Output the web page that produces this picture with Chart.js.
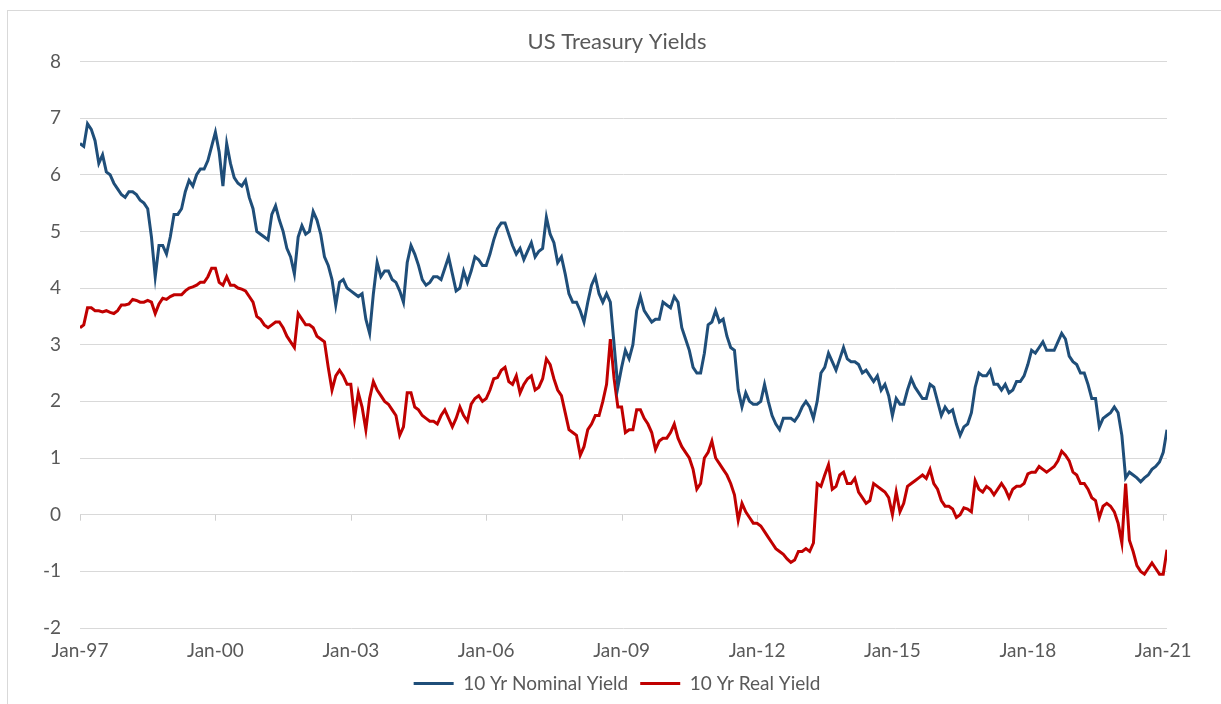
<!DOCTYPE html>
<html lang="en">

<head>
  <meta charset="UTF-8">
  <title>US Treasury Yields</title>
  <script src="https://cdn.jsdelivr.net/npm/chart.js"></script>
  <style>
    body { margin: 0; background: #fff; overflow: hidden; }
    .frame { position: absolute; left: 7px; top: 10px; width: 1240px; height: 720px; border: 1px solid #d9d9d9; }
    .wrap { position: absolute; left: 0; top: 0; width: 1221px; height: 704px; }
  </style>
</head>

<body>
  <div class="frame"></div>
  <div class="wrap">
    <canvas id="yieldChart" width="1221" height="704"></canvas>
  </div>

  <script>
    // monthly readings, Jan-97 .. Feb-21
    const nominalYield = [
      6.55, 6.5, 6.9, 6.8, 6.6, 6.2, 6.35, 6.05, 6.0, 5.85, 5.75, 5.65,   // 1997
      5.6, 5.7, 5.7, 5.65, 5.55, 5.5, 5.4, 4.9, 4.2, 4.75, 4.75, 4.6,     // 1998
      4.9, 5.3, 5.3, 5.4, 5.7, 5.9, 5.8, 6.0, 6.1, 6.1, 6.25, 6.5,        // 1999
      6.75, 6.4, 5.8, 6.55, 6.2, 5.95, 5.85, 5.8, 5.9, 5.6, 5.4, 5.0,     // 2000
      4.95, 4.9, 4.85, 5.3, 5.45, 5.2, 5.0, 4.7, 4.55, 4.25, 4.9, 5.1,    // 2001
      4.95, 5.0, 5.35, 5.2, 4.95, 4.55, 4.4, 4.15, 3.7, 4.1, 4.15, 4.0,   // 2002
      3.95, 3.9, 3.85, 3.9, 3.45, 3.2, 3.9, 4.45, 4.2, 4.3, 4.3, 4.15,    // 2003
      4.1, 3.95, 3.75, 4.45, 4.75, 4.6, 4.4, 4.15, 4.05, 4.1, 4.2, 4.2,   // 2004
      4.15, 4.35, 4.55, 4.25, 3.95, 4.0, 4.3, 4.1, 4.3, 4.55, 4.5, 4.4,   // 2005
      4.4, 4.6, 4.85, 5.05, 5.15, 5.15, 4.95, 4.75, 4.6, 4.7, 4.5, 4.65,  // 2006
      4.8, 4.55, 4.65, 4.7, 5.25, 4.95, 4.8, 4.45, 4.55, 4.25, 3.9, 3.75, // 2007
      3.75, 3.6, 3.4, 3.75, 4.05, 4.2, 3.9, 3.75, 3.9, 3.75, 3.0, 2.25,   // 2008
      2.6, 2.9, 2.75, 3.0, 3.6, 3.85, 3.6, 3.5, 3.4, 3.45, 3.45, 3.75,    // 2009
      3.7, 3.65, 3.85, 3.75, 3.3, 3.1, 2.9, 2.6, 2.5, 2.5, 2.85, 3.35,    // 2010
      3.4, 3.6, 3.4, 3.45, 3.15, 2.95, 2.9, 2.2, 1.9, 2.15, 2.0, 1.95,    // 2011
      1.95, 2.0, 2.3, 2.0, 1.75, 1.6, 1.5, 1.7, 1.7, 1.7, 1.65, 1.75,     // 2012
      1.9, 2.0, 1.9, 1.7, 2.0, 2.5, 2.6, 2.85, 2.7, 2.55, 2.75, 2.95,     // 2013
      2.75, 2.7, 2.7, 2.65, 2.5, 2.55, 2.45, 2.35, 2.45, 2.2, 2.3, 2.1,   // 2014
      1.75, 2.05, 1.95, 1.95, 2.2, 2.4, 2.25, 2.15, 2.05, 2.05, 2.3, 2.25,// 2015
      2.0, 1.75, 1.9, 1.8, 1.85, 1.6, 1.4, 1.55, 1.6, 1.8, 2.25, 2.5,     // 2016
      2.45, 2.45, 2.55, 2.3, 2.3, 2.2, 2.3, 2.15, 2.2, 2.35, 2.35, 2.45,  // 2017
      2.65, 2.9, 2.85, 2.95, 3.05, 2.9, 2.9, 2.9, 3.05, 3.2, 3.1, 2.8,    // 2018
      2.7, 2.65, 2.5, 2.5, 2.3, 2.05, 2.05, 1.55, 1.7, 1.75, 1.8, 1.9,    // 2019
      1.8, 1.4, 0.65, 0.75, 0.7, 0.65, 0.58, 0.65, 0.7, 0.8, 0.85, 0.93,  // 2020
      1.1, 1.5                                                            // 2021
    ];
    const realYield = [
      3.3, 3.35, 3.65, 3.65, 3.6, 3.6, 3.58, 3.6, 3.57, 3.55, 3.6, 3.7,       // 1997
      3.7, 3.72, 3.8, 3.78, 3.75, 3.75, 3.78, 3.75, 3.55, 3.72, 3.82, 3.8,    // 1998
      3.85, 3.88, 3.88, 3.88, 3.95, 4.0, 4.02, 4.05, 4.1, 4.1, 4.2, 4.35,     // 1999
      4.35, 4.1, 4.05, 4.2, 4.05, 4.05, 4.0, 3.98, 3.95, 3.85, 3.75, 3.5,     // 2000
      3.45, 3.35, 3.3, 3.35, 3.4, 3.4, 3.3, 3.15, 3.05, 2.95, 3.55, 3.45,     // 2001
      3.35, 3.35, 3.3, 3.15, 3.1, 3.05, 2.6, 2.2, 2.45, 2.55, 2.45, 2.3,      // 2002
      2.3, 1.7, 2.15, 1.9, 1.5, 2.05, 2.35, 2.2, 2.1, 2.0, 1.95, 1.85,        // 2003
      1.75, 1.4, 1.55, 2.15, 2.15, 1.9, 1.85, 1.75, 1.7, 1.65, 1.65, 1.6,     // 2004
      1.75, 1.85, 1.7, 1.55, 1.7, 1.9, 1.75, 1.65, 1.95, 2.05, 2.1, 2.0,      // 2005
      2.05, 2.2, 2.4, 2.42, 2.55, 2.6, 2.35, 2.3, 2.45, 2.15, 2.3, 2.4,       // 2006
      2.45, 2.2, 2.25, 2.4, 2.75, 2.65, 2.4, 2.2, 2.1, 1.8, 1.5, 1.45,        // 2007
      1.4, 1.05, 1.2, 1.5, 1.6, 1.75, 1.75, 2.0, 2.3, 3.1, 2.4, 1.9,          // 2008
      1.9, 1.45, 1.5, 1.5, 1.85, 1.85, 1.7, 1.6, 1.45, 1.15, 1.3, 1.35,       // 2009
      1.35, 1.45, 1.6, 1.35, 1.2, 1.1, 1.0, 0.8, 0.45, 0.55, 1.0, 1.1,        // 2010
      1.3, 1.0, 0.9, 0.8, 0.7, 0.55, 0.35, -0.1, 0.2, 0.05, -0.05, -0.15,     // 2011
      -0.15, -0.2, -0.3, -0.4, -0.5, -0.6, -0.65, -0.7, -0.78, -0.84, -0.8, -0.65, // 2012
      -0.65, -0.6, -0.65, -0.5, 0.55, 0.5, 0.7, 0.88, 0.45, 0.5, 0.7, 0.75,   // 2013
      0.55, 0.55, 0.64, 0.4, 0.3, 0.2, 0.25, 0.55, 0.5, 0.45, 0.4, 0.3,       // 2014
      0.0, 0.4, 0.05, 0.2, 0.5, 0.55, 0.6, 0.65, 0.7, 0.64, 0.8, 0.55,        // 2015
      0.45, 0.25, 0.15, 0.15, 0.1, -0.05, 0.0, 0.12, 0.1, 0.05, 0.6, 0.45,    // 2016
      0.4, 0.5, 0.45, 0.35, 0.45, 0.55, 0.45, 0.3, 0.45, 0.5, 0.5, 0.55,      // 2017
      0.72, 0.75, 0.75, 0.85, 0.8, 0.75, 0.8, 0.85, 0.95, 1.12, 1.05, 0.95,   // 2018
      0.75, 0.7, 0.55, 0.55, 0.45, 0.3, 0.25, -0.05, 0.15, 0.2, 0.15, 0.05,   // 2019
      -0.15, -0.5, 0.55, -0.45, -0.65, -0.9, -1.0, -1.05, -0.95, -0.85, -0.95, -1.05, // 2020
      -1.05, -0.62                                                            // 2021
    ];
    // x axis: months since Jan-97
    const tickMonths = [0, 36, 72, 108, 144, 180, 216, 252, 288];
    const tickLabels = ['Jan-97', 'Jan-00', 'Jan-03', 'Jan-06', 'Jan-09', 'Jan-12', 'Jan-15', 'Jan-18', 'Jan-21'];
    const yTicks = [-2, -1, 0, 1, 2, 3, 4, 5, 6, 7, 8];

    const FONT = 'Lato, "Open Sans", sans-serif';
    const GREY = '#595959';

    // small tick marks on the zero line, like the excel category axis
    const zeroTicks = {
      id: 'zeroTicks',
      beforeDatasetsDraw(chart) {
        const { ctx, scales: { x, y } } = chart;
        const y0 = y.getPixelForValue(0);
        ctx.save();
        ctx.strokeStyle = '#d0d0d0';
        ctx.lineWidth = 1;
        tickMonths.forEach(m => {
          const px = Math.round(x.getPixelForValue(m)) + 0.5;
          ctx.beginPath();
          ctx.moveTo(px, y0);
          ctx.lineTo(px, y0 + 6);
          ctx.stroke();
        });
        ctx.restore();
      }
    };

    const ctx = document.getElementById('yieldChart').getContext('2d');
    new Chart(ctx, {
      type: 'line',
      data: {
        datasets: [{
          label: '10 Yr Nominal Yield',
          data: nominalYield.map((v, i) => ({ x: i, y: v })),
          borderColor: '#1F4E79',
          backgroundColor: '#1F4E79',
          borderWidth: 3,
          pointRadius: 0,
          tension: 0
        }, {
          label: '10 Yr Real Yield',
          data: realYield.map((v, i) => ({ x: i, y: v })),
          borderColor: '#C00000',
          backgroundColor: '#C00000',
          borderWidth: 3,
          pointRadius: 0,
          tension: 0
        }]
      },
      options: {
        responsive: false,
        animation: false,
        layout: { padding: { left: 40, right: 27, top: 0, bottom: 1 } },
        plugins: {
          title: {
            display: true,
            text: 'US Treasury Yields',
            color: GREY,
            font: { family: FONT, size: 22, weight: 'normal' },
            padding: { top: 29, bottom: 6 }
          },
          legend: {
            position: 'bottom',
            labels: {
              color: GREY,
              font: { family: FONT, size: 19 },
              usePointStyle: true,
              pointStyle: 'line',
              pointStyleWidth: 40,
              padding: 12
            }
          },
          tooltip: { enabled: false }
        },
        scales: {
          x: {
            type: 'linear',
            min: 0,
            max: 289,
            afterBuildTicks: scale => { scale.ticks = tickMonths.map(v => ({ value: v })); },
            afterFit: scale => { scale.height = 34; },
            grid: { display: false, drawTicks: false },
            border: { display: false },
            ticks: {
              color: GREY,
              font: { family: FONT, size: 19 },
              padding: 11,
              maxRotation: 0,
              autoSkip: false,
              callback: (value, index) => tickLabels[index]
            }
          },
          y: {
            min: -2,
            max: 8,
            afterBuildTicks: scale => { scale.ticks = yTicks.map(v => ({ value: v })); },
            afterFit: scale => { scale.width = 40; },
            grid: { color: '#d9d9d9', drawTicks: false },
            border: { display: false },
            ticks: {
              color: GREY,
              font: { family: FONT, size: 19 },
              padding: 19
            }
          },
          // empty right-hand box, only to keep title and legend centred like the original
          yRight: {
            position: 'right',
            min: -2,
            max: 8,
            afterFit: scale => { scale.width = 27; },
            grid: { display: false, drawTicks: false },
            border: { display: false },
            ticks: { display: false }
          }
        }
      },
      plugins: [zeroTicks]
    });
  </script>

</body>

</html>
